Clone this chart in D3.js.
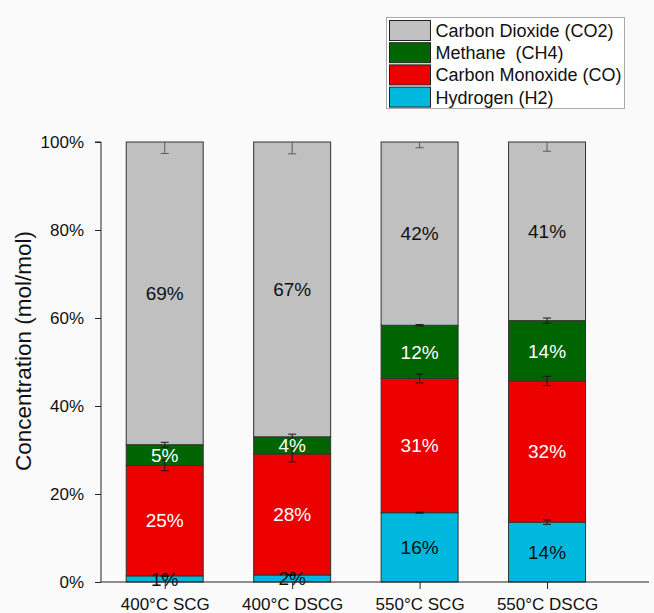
<!DOCTYPE html>
<html>
<head>
<meta charset="utf-8">
<script src="https://cdn.jsdelivr.net/npm/d3@7"></script>
<style>
  html, body { margin: 0; padding: 0; background: #fafafa; }
  svg { display: block; font-family: "Liberation Sans", Arial, sans-serif; }
</style>
</head>
<body>
<svg id="chart" width="654" height="613"></svg>
<script>
// Gas composition (mol %) per run, stacked bottom to top
const categories = ["400°C SCG", "400°C DSCG", "550°C SCG", "550°C DSCG"];
const hydrogen       = [1.4, 1.6, 15.75, 13.6];
const carbonMonoxide = [25.1, 27.5, 30.5, 32.1];
const methane        = [4.7, 3.9, 12.1, 13.7];
const carbonDioxide  = [68.8, 67.0, 41.65, 40.6];

// Standard deviations at the top of each stacked segment
const hydrogenErr       = [0.1, 0.1, 0.1, 0.5];
const carbonMonoxideErr = [1.2, 1.8, 1.0, 1.05];
const methaneErr        = [0.55, 0.6, 0.15, 0.6];
const carbonDioxideErr  = [2.6, 2.7, 1.3, 2.1];

const yTicks = [0, 20, 40, 60, 80, 100];

const series = [
  { key: "H2",  name: "Hydrogen (H2)",        values: hydrogen,       err: hydrogenErr,       fill: "#00b8de", text: "#111" },
  { key: "CO",  name: "Carbon Monoxide (CO)", values: carbonMonoxide, err: carbonMonoxideErr, fill: "#ec0000", text: "#fff" },
  { key: "CH4", name: "Methane  (CH4)",       values: methane,        err: methaneErr,        fill: "#006400", text: "#fff" },
  { key: "CO2", name: "Carbon Dioxide (CO2)", values: carbonDioxide,  err: carbonDioxideErr,  fill: "#c0c0c0", text: "#111" }
];

const svg = d3.select("#chart");

// Column positions on a numeric axis (1..4), axis runs a little past the last column
const x = d3.scaleLinear().domain([0.5, 4.8]).range([101, 649]);
const y = d3.scaleLinear().domain([0, 100]).range([582, 142]);
const barHalf = 0.302;

// Build stack table
const table = categories.map((c, i) => {
  const row = { category: c, index: i + 1 };
  series.forEach(s => { row[s.key] = s.values[i]; });
  return row;
});
const stacked = d3.stack().keys(series.map(s => s.key))(table);

const clipId = "plot-clip";
svg.append("defs").append("clipPath").attr("id", clipId)
  .append("rect")
  .attr("x", x(0.5)).attr("y", y(100))
  .attr("width", x(4.8) - x(0.5)).attr("height", y(0) - y(100));

const plot = svg.append("g");

// Stacked segments
stacked.forEach((layer, li) => {
  const s = series[li];
  plot.append("g").selectAll("rect")
    .data(layer)
    .join("rect")
    .attr("x", d => x(d.data.index - barHalf))
    .attr("width", d => x(d.data.index + barHalf) - x(d.data.index - barHalf))
    .attr("y", d => y(d[1]))
    .attr("height", d => y(d[0]) - y(d[1]))
    .attr("fill", s.fill)
    .attr("stroke", "#333")
    .attr("stroke-width", 1);
});

// Error bars at each segment top
const errG = plot.append("g").attr("clip-path", `url(#${clipId})`);
stacked.forEach((layer, li) => {
  const s = series[li];
  layer.forEach((d, i) => {
    const cx = x(d.data.index);
    const top = d[1];
    const e = s.err[i];
    const col = s.key === "CO2" ? "#5a5a5a" : "#1a1a1a";
    const g = errG.append("g").attr("stroke", col).attr("stroke-width", 1);
    g.append("line").attr("x1", cx).attr("x2", cx).attr("y1", y(top + e)).attr("y2", y(top - e));
    [top + e, top - e].forEach(v => {
      g.append("line").attr("x1", cx - 4).attr("x2", cx + 4).attr("y1", y(v)).attr("y2", y(v));
    });
  });
});

// Value labels centred in each segment
stacked.forEach((layer, li) => {
  const s = series[li];
  plot.append("g").selectAll("text")
    .data(layer)
    .join("text")
    .attr("x", d => x(d.data.index))
    .attr("y", d => (y(d[0]) + y(d[1])) / 2)
    .attr("dy", "0.36em")
    .attr("text-anchor", "middle")
    .attr("font-size", 19)
    .attr("fill", s.text)
    .text(d => Math.round(d[1] - d[0]) + "%");
});

// Axes
const yAxis = d3.axisLeft(y).tickValues(yTicks).tickSize(6).tickPadding(11)
  .tickFormat(d => d + "%");
const yg = svg.append("g").attr("transform", `translate(${x(0.5)},0)`).call(yAxis);
yg.select(".domain").attr("d", `M-6,${y(100)}H0V${y(0)}`).attr("stroke", "#222");
yg.selectAll(".tick line").attr("stroke", "#222");
yg.selectAll("text").attr("font-size", 17).attr("fill", "#111").attr("font-family", null);

const xAxis = d3.axisBottom(x).tickValues([1, 2, 3, 4]).tickSize(7).tickPadding(9)
  .tickFormat(d => categories[d - 1]);
const xg = svg.append("g").attr("transform", `translate(0,${y(0)})`).call(xAxis);
xg.select(".domain").attr("d", `M${x(0.5)},0H${x(4.8)}`).attr("stroke", "#222");
xg.selectAll(".tick line").attr("stroke", "#222");
xg.selectAll("text").attr("font-size", 17).attr("fill", "#111").attr("font-family", null);

// Axis title
svg.append("text")
  .attr("transform", `translate(31,${(y(0) + y(100)) / 2 - 11}) rotate(-90)`)
  .attr("text-anchor", "middle")
  .attr("font-size", 22.5)
  .attr("fill", "#111")
  .text("Concentration (mol/mol)");

// Legend (top layer first)
const legend = svg.append("g");
legend.append("rect")
  .attr("x", 386.5).attr("y", 17.5).attr("width", 238).attr("height", 91)
  .attr("fill", "#fff").attr("stroke", "#aaa").attr("stroke-width", 1);
const legendItems = series.slice().reverse();
const li = legend.selectAll("g.item").data(legendItems).join("g")
  .attr("class", "item")
  .attr("transform", (d, i) => `translate(389.5,${20.5 + i * 22.2})`);
li.append("rect")
  .attr("width", 41).attr("height", 20)
  .attr("fill", d => d.fill).attr("stroke", "#222").attr("stroke-width", 1);
li.append("text")
  .attr("x", 46).attr("y", 10).attr("dy", "0.36em")
  .attr("font-size", 18).attr("fill", "#111")
  .style("white-space", "pre")
  .text(d => d.name);
</script>
</body>
</html>
